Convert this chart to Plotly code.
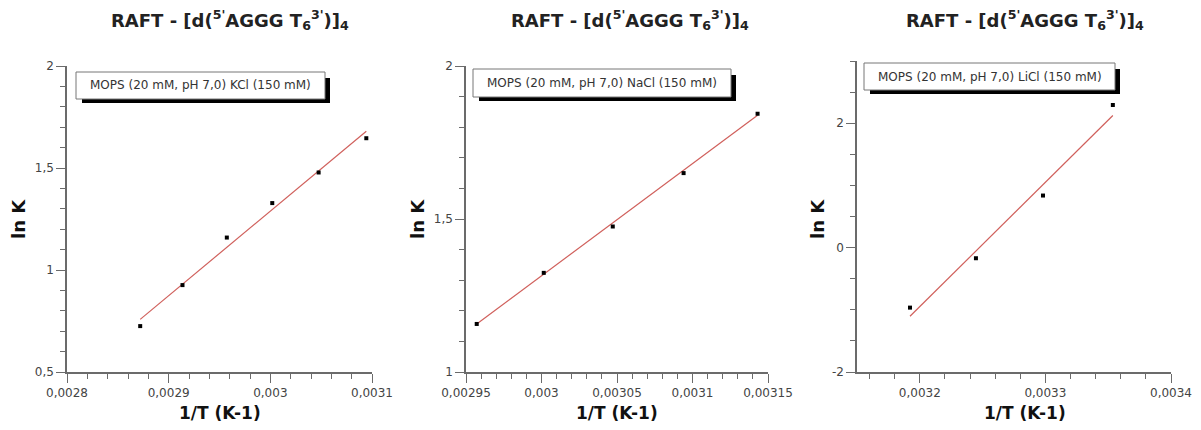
import plotly.graph_objects as go

# page body has an 8px default margin; the figure fills the rest of the window
OFF = 8
W, H = 1201 - OFF, 430 - OFF

# ---- data ----
kcl_x = [0.002872, 0.0029136, 0.0029572, 0.0030019, 0.0030475, 0.0030944]
kcl_y = [0.725, 0.926, 1.159, 1.328, 1.478, 1.646]
kcl_fit_x = [0.002872, 0.0030944]
kcl_fit_y = [0.758, 1.680]

nacl_x = [0.0029571, 0.0030015, 0.0030472, 0.0030941, 0.0031431]
nacl_y = [1.157, 1.324, 1.4755, 1.650, 1.844]
nacl_fit_x = [0.0029571, 0.0031431]
nacl_fit_y = [1.157, 1.839]

licl_x = [0.0031922, 0.0032447, 0.0032981, 0.0033537]
licl_y = [-0.965, -0.171, 0.837, 2.293]
licl_fit_x = [0.0031922, 0.0033537]
licl_fit_y = [-1.104, 2.123]

legend_texts = ["MOPS (20 mM, pH 7,0) KCl (150 mM)",
                "MOPS (20 mM, pH 7,0) NaCl (150 mM)",
                "MOPS (20 mM, pH 7,0) LiCl (150 mM)"]
title_text = "<b>RAFT - [d(<sup>5'</sup>AGGG T<sub>6</sub><sup>3'</sup>)]<sub>4</sub></b>"

x_ticks = [[0.0028, 0.0029, 0.003, 0.0031],
           [0.00295, 0.003, 0.00305, 0.0031, 0.00315],
           [0.0032, 0.0033, 0.0034]]
x_ticktext = [["0,0028", "0,0029", "0,003", "0,0031"],
              ["0,00295", "0,003", "0,00305", "0,0031", "0,00315"],
              ["0,0032", "0,0033", "0,0034"]]
y_ticks = [[0.5, 1, 1.5, 2], [1, 1.5, 2], [-2, 0, 2]]
y_ticktext = [["0,5", "1", "1,5", "2"], ["1", "1,5", "2"], ["-2", "0", "2"]]

# ---- layout geometry (window pixels) ----
panels = [
    dict(x0=67, x1=372, y0=66, y1=372, xr=[0.0028, 0.0031], yr=[0.5, 2],
         xminor=0.00002, yminor=0.1, x0tick=0.0028, y0tick=0.5,
         box=(76, 72, 325, 99), title_x=230, ytitle_x=18, xtitle_x=220),
    dict(x0=466, x1=768, y0=66, y1=372, xr=[0.00295, 0.00315], yr=[1, 2],
         xminor=0.00001, yminor=0.1, x0tick=0.00295, y0tick=1,
         box=(473, 69, 731, 97), title_x=630, ytitle_x=417, xtitle_x=617),
    dict(x0=857, x1=1171, y0=61, y1=372, xr=[0.00315, 0.0034], yr=[-2, 3],
         xminor=0.00002, yminor=0.5, x0tick=0.0032, y0tick=-2,
         box=(864, 63, 1115, 90), title_x=1025, ytitle_x=817, xtitle_x=1025),
]

series = [(kcl_x, kcl_y, kcl_fit_x, kcl_fit_y),
          (nacl_x, nacl_y, nacl_fit_x, nacl_fit_y),
          (licl_x, licl_y, licl_fit_x, licl_fit_y)]

def px(x):
    return (x - OFF) / W

def py(y):
    return 1 - (y - OFF) / H

fig = go.Figure()
shapes = []
annotations = []
axis_color = "#6b6b6b"
tick_font = dict(family="DejaVu Sans", size=12, color="#444444")

for i, (p, s) in enumerate(zip(panels, series)):
    xa = "x" if i == 0 else f"x{i+1}"
    ya = "y" if i == 0 else f"y{i+1}"
    xkey = "xaxis" if i == 0 else f"xaxis{i+1}"
    ykey = "yaxis" if i == 0 else f"yaxis{i+1}"
    sx, sy, fx, fy = s
    fig.add_trace(go.Scatter(x=fx, y=fy, mode="lines", xaxis=xa, yaxis=ya,
                             line=dict(color="#d0605c", width=1.2),
                             showlegend=False, hoverinfo="skip"))
    fig.add_trace(go.Scatter(x=sx, y=sy, mode="markers", xaxis=xa, yaxis=ya,
                             marker=dict(color="black", size=4, symbol="square"),
                             showlegend=False))
    fig.layout[xkey] = dict(
        domain=[px(p["x0"]), px(p["x1"])], anchor=ya, range=p["xr"],
        automargin=False,
        showgrid=False, zeroline=False, showline=True, linecolor=axis_color,
        linewidth=1.5, ticks="outside", ticklen=9, tickcolor=axis_color,
        tickwidth=1.2, tickmode="array", tickvals=x_ticks[i],
        ticktext=x_ticktext[i], tickfont=tick_font,
        minor=dict(tickmode="linear", tick0=p["x0tick"], dtick=p["xminor"],
                   ticks="outside", ticklen=5, tickcolor=axis_color, tickwidth=1.2),
    )
    fig.layout[ykey] = dict(
        domain=[py(p["y1"]), py(p["y0"])], anchor=xa, range=p["yr"],
        automargin=False,
        showgrid=False, zeroline=False, showline=True, linecolor=axis_color,
        linewidth=1.5, ticks="outside", ticklen=9, tickcolor=axis_color,
        tickwidth=1.2, tickmode="array", tickvals=y_ticks[i],
        ticktext=y_ticktext[i], tickfont=tick_font,
        minor=dict(tickmode="linear", tick0=p["y0tick"], dtick=p["yminor"],
                   ticks="outside", ticklen=5, tickcolor=axis_color, tickwidth=1.2),
    )
    # legend box with shadow
    bx0, by0, bx1, by1 = p["box"]
    shapes.append(dict(type="rect", xref="paper", yref="paper",
                       x0=px(bx0 + 6), x1=px(bx1 + 5), y0=py(by1 + 4), y1=py(by0 + 6),
                       fillcolor="black", line=dict(width=0)))
    shapes.append(dict(type="rect", xref="paper", yref="paper",
                       x0=px(bx0), x1=px(bx1), y0=py(by1), y1=py(by0),
                       fillcolor="white", line=dict(color="#777777", width=1)))
    annotations.append(dict(text=legend_texts[i], xref="paper", yref="paper",
                            x=px((bx0 + bx1) / 2), y=py((by0 + by1) / 2),
                            xanchor="center", yanchor="middle", showarrow=False,
                            font=dict(family="DejaVu Sans", size=12, color="#333333")))
    # title
    annotations.append(dict(text=title_text, xref="paper", yref="paper",
                            x=px(p["title_x"]), y=py(20), xanchor="center",
                            yanchor="middle", showarrow=False,
                            font=dict(family="DejaVu Sans", size=18, color="#222222")))
    # axis titles
    annotations.append(dict(text="<b>ln K</b>", xref="paper", yref="paper",
                            x=px(p["ytitle_x"]), y=py(219), textangle=-90,
                            xanchor="center", yanchor="middle", showarrow=False,
                            font=dict(family="DejaVu Sans", size=18, color="#111111")))
    annotations.append(dict(text="<b>1/T (K-1)</b>", xref="paper", yref="paper",
                            x=px(p["xtitle_x"]), y=py(413), xanchor="center",
                            yanchor="middle", showarrow=False,
                            font=dict(family="DejaVu Sans", size=17, color="#111111")))

fig.update_layout(width=W, height=H, margin=dict(l=0, r=0, t=0, b=0),
                  paper_bgcolor="white", plot_bgcolor="white",
                  shapes=shapes, annotations=annotations, showlegend=False)
fig.write_html("out.html")
